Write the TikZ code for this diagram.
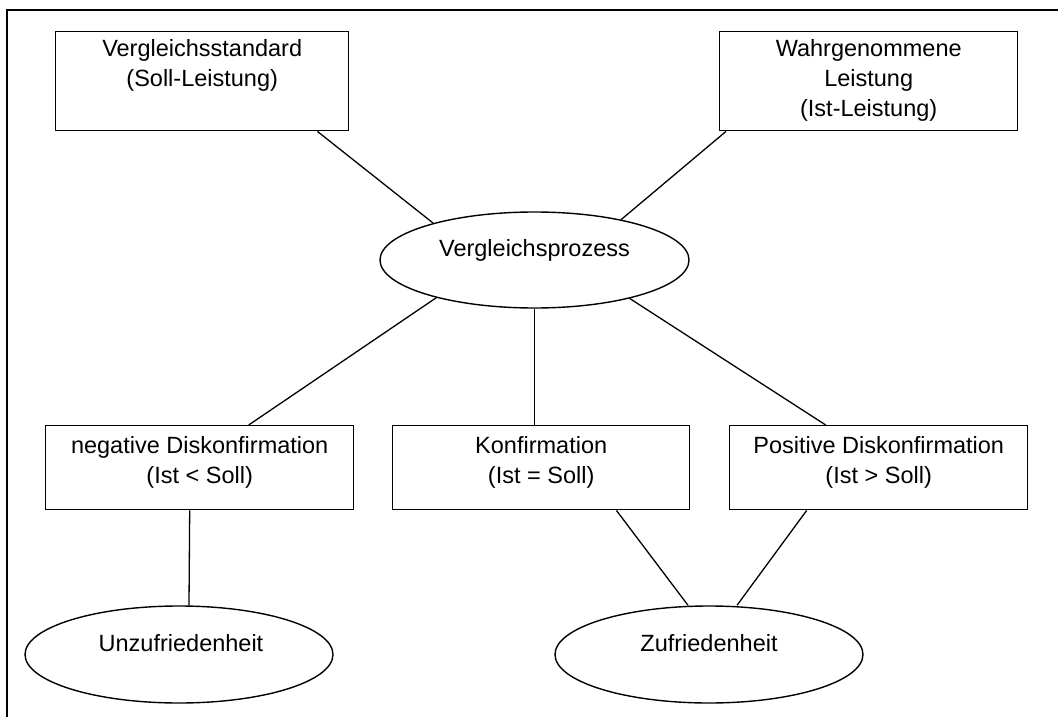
\documentclass[tikz,border=0pt]{standalone}
\usepackage{fontspec}
\setmainfont{Liberation Sans}
\usetikzlibrary{shapes.geometric}
\begin{document}
\begin{tikzpicture}[x=1pt,y=-1pt,
  box/.style={draw, line width=1.4pt, inner sep=0pt, anchor=north west},
  oval/.style={draw, ellipse, line width=1.4pt, inner sep=0pt,
    minimum width=309pt, minimum height=96pt},
  lbl/.style={anchor=base, inner sep=0pt, font=\fontsize{23.5}{28}\selectfont},
  link/.style={line width=1.3pt}]
\useasboundingbox (0,0) rectangle (1058,717);

% frame edges
\draw[line width=1.6pt] (7,717) -- (7,10) -- (1058,10);

% rectangles
\node[box, minimum width=293pt, minimum height=99pt] (A) at (55,31) {};
\node[box, minimum width=298pt, minimum height=99pt] (B) at (719,31) {};
\node[box, minimum width=308pt, minimum height=84pt] (N) at (45,425) {};
\node[box, minimum width=297pt, minimum height=84pt] (K) at (392,425) {};
\node[box, minimum width=298pt, minimum height=84pt] (P) at (729,425) {};

% ellipses
\node[oval] (V) at (534.5,260) {};
\node[oval, minimum width=308pt, minimum height=97pt] (U) at (179,654.5) {};
\node[oval, minimum width=308pt, minimum height=97pt] (Z) at (709,654.5) {};

% texts
\node[lbl] (A1) at ([yshift=-26pt]A.north) {Vergleichsstandard};
\node[lbl] (A2) at ([yshift=-56pt]A.north) {(Soll-Leistung)};
\node[lbl] (B1) at ([yshift=-26pt]B.north) {Wahrgenommene};
\node[lbl] (B2) at ([yshift=-55.5pt]B.north) {Leistung};
\node[lbl] (B3) at ([yshift=-85.5pt]B.north) {(Ist-Leistung)};
\node[lbl] (N1) at ([yshift=-28pt]N.north) {negative Diskonfirmation};
\node[lbl] (N2) at ([yshift=-58.5pt]N.north) {(Ist < Soll)};
\node[lbl] (K1) at ([yshift=-28pt]K.north) {Konfirmation};
\node[lbl] (K2) at ([yshift=-58.5pt]K.north) {(Ist = Soll)};
\node[lbl] (P1) at ([yshift=-28pt]P.north) {Positive Diskonfirmation};
\node[lbl] (P2) at ([yshift=-58.5pt]P.north) {(Ist > Soll)};
\node[lbl] (V1) at ([yshift=4pt]V.center) {Vergleichsprozess};
\node[lbl] (U1) at ([yshift=3pt,xshift=2pt]U.center) {Unzufriedenheit};
\node[lbl] (Z1) at ([yshift=3pt]Z.center) {Zufriedenheit};

% connectors
\draw[link] ([xshift=-32pt]A.south east) -- (V.160.5);
\draw[link] ([xshift=7pt]B.south west) -- (V.25.5);
\draw[link] (V.201.9) -- ([xshift=49pt]N.north);
\draw[link] (V.south) -- (V.south |- K.north);
\draw[link] (V.338.5) -- ([xshift=-53pt]P.north);
\draw[link] ([xshift=-10pt]N.south) -- ([xshift=10pt]U.north);
\draw[link] ([xshift=-74pt]K.south east) -- ([xshift=-21pt]Z.north);
\draw[link] ([xshift=-72pt]P.south) -- ([xshift=28pt]Z.north);
\end{tikzpicture}
\end{document}
